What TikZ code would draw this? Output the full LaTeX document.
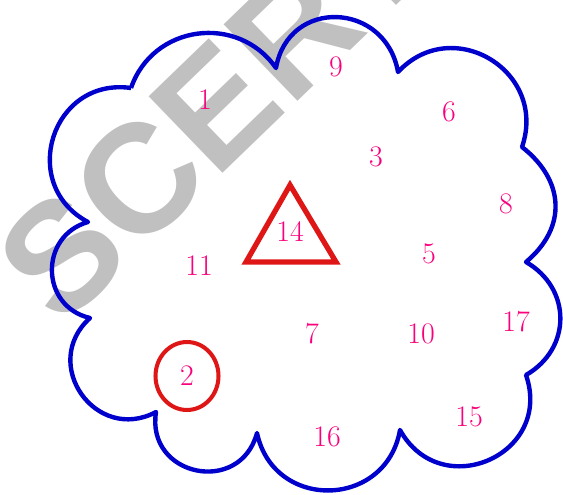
\documentclass[tikz,border=0pt]{standalone}
\usepackage{fontspec}
\newfontfamily\markfont{Liberation Sans}
\usetikzlibrary{shapes.geometric}
\definecolor{cloudblue}{RGB}{0,0,205}
\definecolor{numpink}{RGB}{250,0,125}
\definecolor{markred}{RGB}{222,22,22}
\definecolor{markgray}{RGB}{192,192,192}

\begin{document}
\begin{tikzpicture}[x=0.02cm, y=0.02cm,
    num/.style={text=numpink, font=\fontsize{17}{20}\selectfont, inner sep=0pt},
    cloudline/.style={draw=cloudblue, line width=2.5pt, line join=round},
    redmark/.style={draw=markred, line width=2.5pt}]
    \useasboundingbox (0,0) rectangle (563,494);

    % Watermark
    \node[text=markgray, font=\markfont\bfseries\fontsize{88}{88}\selectfont, rotate=44] (wm) at (213,385) {SCERT};

    % Cloud
    \draw[cloudline] (131,406) to[out=71,in=125,looseness=1.17] (276,426)
        to[out=80,in=100,looseness=1.5] (398,422)
        to[out=47,in=71,looseness=1.41] (522,347)
        to[out=-38,in=40,looseness=1.2] (526,232)
        to[out=-30,in=30,looseness=1.2] (526,119)
        to[out=-71,in=-61,looseness=1.57] (400,64)
        to[out=-100,in=-78,looseness=1.43] (257,61)
        to[out=-105,in=-99,looseness=1.62] (156,82)
        to[out=208,in=222,looseness=1.52] (90,176)
        to[out=167,in=196,looseness=1.36] (88,272)
        to[out=152,in=172,looseness=1.45] (131,406);

    % Numbers
    \node[num] (n1) at (205,394) {1};
    \node[num] (n9) at (336,427) {9};
    \node[num] (n6) at (449,382) {6};
    \node[num] (n3) at (376,337) {3};
    \node[num] (n8) at (506,290) {8};
    \node[num] (n14) at (290,262) {14};
    \node[num] (n5) at (429,240) {5};
    \node[num] (n11) at (199,228) {11};
    \node[num] (n7) at (312,160) {7};
    \node[num] (n10) at (421,160) {10};
    \node[num] (n17) at (516,172) {17};
    \node[num, redmark, ellipse, line width=2.3pt, minimum width=1.26cm, minimum height=1.36cm] (n2) at (187,118) {2};
    \node[num] (n15) at (469,77) {15};
    \node[num] (n16) at (327,57) {16};

    % Triangle round 14
    \draw[redmark, line width=3pt, line join=miter] (290,309) -- (246,232) -- (336,232) -- cycle;
\end{tikzpicture}
\end{document}
